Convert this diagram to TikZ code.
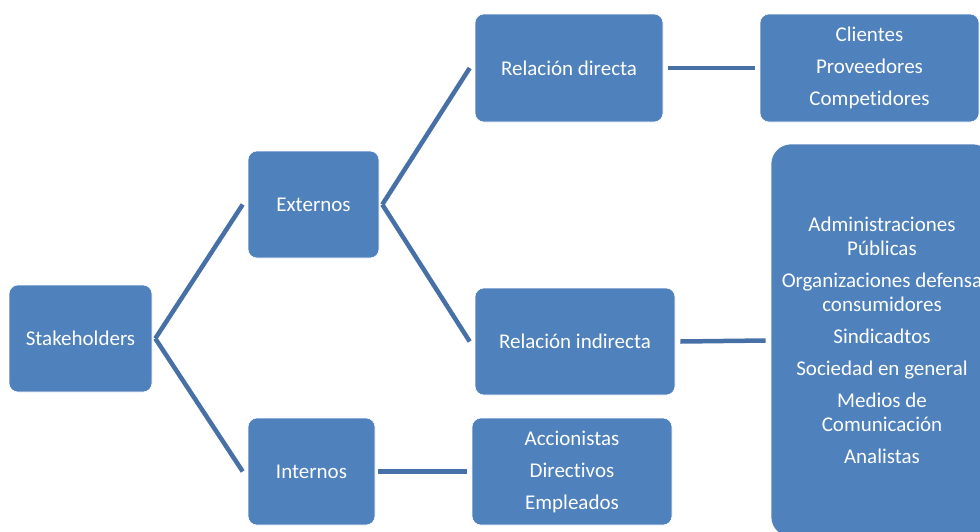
\documentclass[tikz,border=0pt]{standalone}
\usepackage{fontspec}
\setmainfont{Carlito}[Ligatures=NoCommon]
\usetikzlibrary{positioning}
\definecolor{boxblue}{RGB}{79,129,189}
\definecolor{lineblue}{RGB}{70,112,166}

\begin{document}
\begin{tikzpicture}[x=1pt, y=-1pt,
		Box/.style={
			draw=white,
			line width=0.6pt,
			fill=boxblue,
			rounded corners=9pt,
			text=white,
			font=\fontsize{21}{24}\selectfont,
			align=center,
			inner sep=0pt,
			minimum height=107pt
		},
		Conn/.style={draw=lineblue, line width=4.5pt}]
		\useasboundingbox (0,0) rectangle (980,531);
		\clip (0,0) rectangle (980,531);
		% first and second level
		\node[Box, minimum width=143pt] (stk) at (80.5,338.5) {Stakeholders};
		\node[Box, minimum width=131pt] (ext) at (313.5,204.5) {Externos};
		\node[Box, minimum width=127pt] (int) at (311.5,471.5) {Internos};
		% third level
		\node[Box, minimum width=188pt, minimum height=108pt] (dir) at (569,68) {Relaci\'on directa};
		\node[Box, minimum width=200pt] (ind) at (575,341.5) {Relaci\'on indirecta};
		\node[Box, minimum width=200pt] (acc) at (572,471.5) {Accionistas\\[8pt]Directivos\\[8pt]Empleados};
		% lists
		\node[Box, minimum width=219pt, minimum height=108pt] (cli) at (869.5,68) {Clientes\\[8pt]Proveedores\\[8pt]Competidores};
		\node[Box, minimum width=222pt, minimum height=393pt, rounded corners=20pt] (pub) at (882,340.5)
			{Administraciones\\P\'ublicas\\[8pt]Organizaciones defensa\\consumidores\\[8pt]Sindicadtos\\[8pt]Sociedad en general\\[8pt]Medios de\\Comunicaci\'on\\[8pt]Analistas};
		% connectors
		\draw[Conn] ([xshift=3pt]stk.east) -- ([xshift=-5pt]ext.west);
		\draw[Conn] ([xshift=3pt]stk.east) -- ([xshift=-5pt]int.west);
		\draw[Conn] ([xshift=3pt]ext.east) -- ([xshift=-5pt]dir.west);
		\draw[Conn] ([xshift=3pt]ext.east) -- ([xshift=-5pt]ind.west);
		\draw[Conn] ([xshift=5pt]dir.east) -- ([xshift=-5pt]cli.west);
		\draw[Conn] ([xshift=5pt]ind.east) -- ([xshift=-5pt]pub.west);
		\draw[Conn] ([xshift=3pt]int.east) -- ([xshift=-5pt]acc.west);
	\end{tikzpicture}
\end{document}
